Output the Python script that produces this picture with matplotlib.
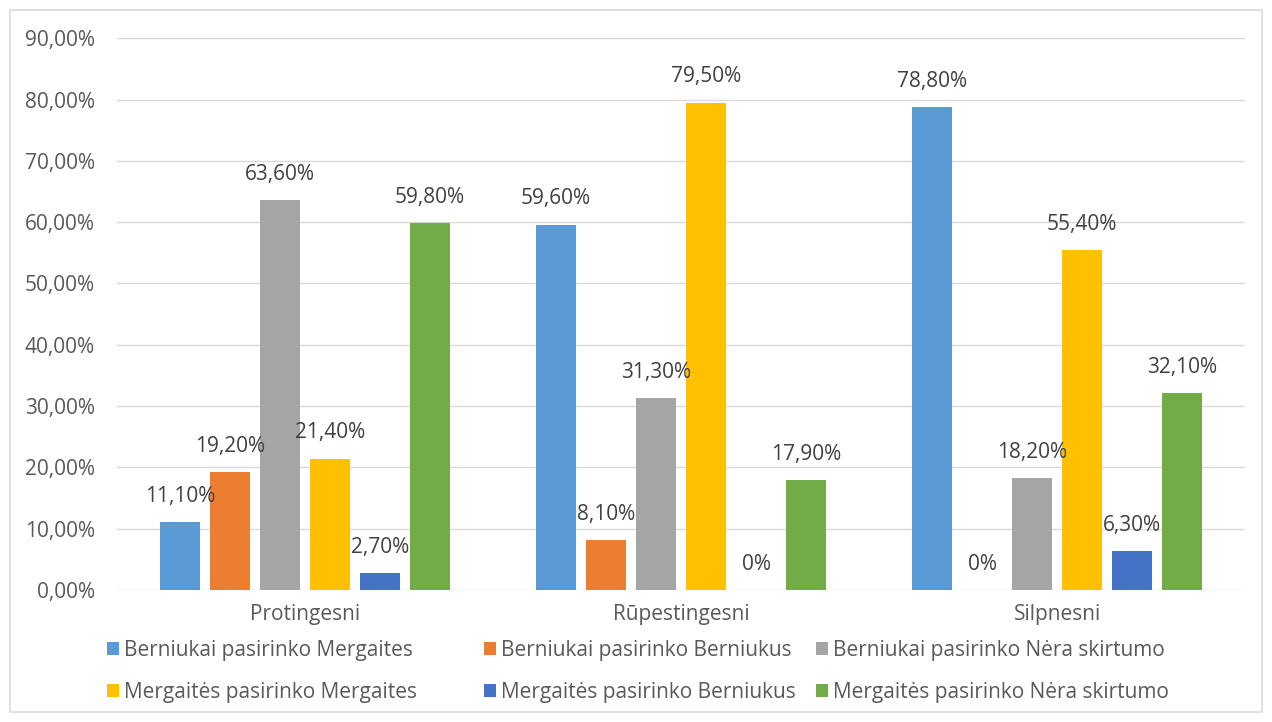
import numpy as np
import matplotlib
matplotlib.use('Agg')
import matplotlib.pyplot as plt
from matplotlib.patches import Rectangle

plt.rcParams['font.family'] = ['Open Sans', 'DejaVu Sans']

categories = ['Protingesni', 'Rūpestingesni', 'Silpnesni']
series = ['Berniukai pasirinko Mergaites', 'Berniukai pasirinko Berniukus',
          'Berniukai pasirinko Nėra skirtumo', 'Mergaitės pasirinko Mergaites',
          'Mergaitės pasirinko Berniukus', 'Mergaitės pasirinko Nėra skirtumo']
values = [
    [11.1, 59.6, 78.8],
    [19.2, 8.1, 0.0],
    [63.6, 31.3, 18.2],
    [21.4, 79.5, 55.4],
    [2.7, 0.0, 6.3],
    [59.8, 17.9, 32.1],
]
colors = ['#5b9bd5', '#ed7d31', '#a5a5a5', '#ffc000', '#4472c4', '#70ad47']
yticks = np.arange(0, 91, 10)

txt = '#404040'
grey = '#595959'
fs = 15

fig = plt.figure(figsize=(12.72, 7.22), dpi=100)
ax = fig.add_axes([0.092, 0.183, 0.887, 0.764])

x = np.arange(len(categories))
step = 50 / 376
width = 40 / 376

def fmt(v):
    if v == 0:
        return '0%'
    return ('%.2f%%' % v).replace('.', ',')

for i, (name, vals, c) in enumerate(zip(series, values, colors)):
    pos = x + (i - 2.5) * step
    ax.bar(pos, vals, width, color=c, label=name, zorder=3)
    for p, v in zip(pos, vals):
        ax.annotate(fmt(v), (p, v), xytext=(0, 11), textcoords='offset points',
                    ha='center', va='bottom', fontsize=fs, color=txt, zorder=4)

ax.set_xlim(-0.5, 2.5)
ax.set_ylim(0, 90)
ax.set_yticks(yticks)
ax.set_yticklabels(['%d,00%%' % t for t in yticks])
ax.set_xticks(x)
ax.set_xticklabels(categories)
ax.tick_params(axis='both', length=0, labelsize=fs, colors=grey)
ax.tick_params(axis='y', pad=16)
ax.tick_params(axis='x', pad=10)
ax.grid(axis='y', color='#d9d9d9', lw=1, zorder=0)
for s in ax.spines.values():
    s.set_visible(False)

# legend: three columns placed separately, like the Excel layout
handles, labels = ax.get_legend_handles_labels()
col_x = [0.0778, 0.3742, 0.6352]
for j, cx in enumerate(col_x):
    idx = [j, j + 3]
    lg = fig.legend([handles[k] for k in idx], [labels[k] for k in idx],
                    loc='upper left', bbox_to_anchor=(cx, 0.125), ncol=1,
                    frameon=False, fontsize=fs, handlelength=0.55, handleheight=0.55,
                    handletextpad=0.25, labelspacing=1.0, borderaxespad=0)
    for t in lg.get_texts():
        t.set_color(grey)

fig.patches.append(Rectangle((10 / 1272, 10 / 722), 1252 / 1272, 702 / 722,
                             transform=fig.transFigure, fill=False,
                             edgecolor='#d9d9d9', lw=1.2))

plt.savefig('out.png', dpi=100)
